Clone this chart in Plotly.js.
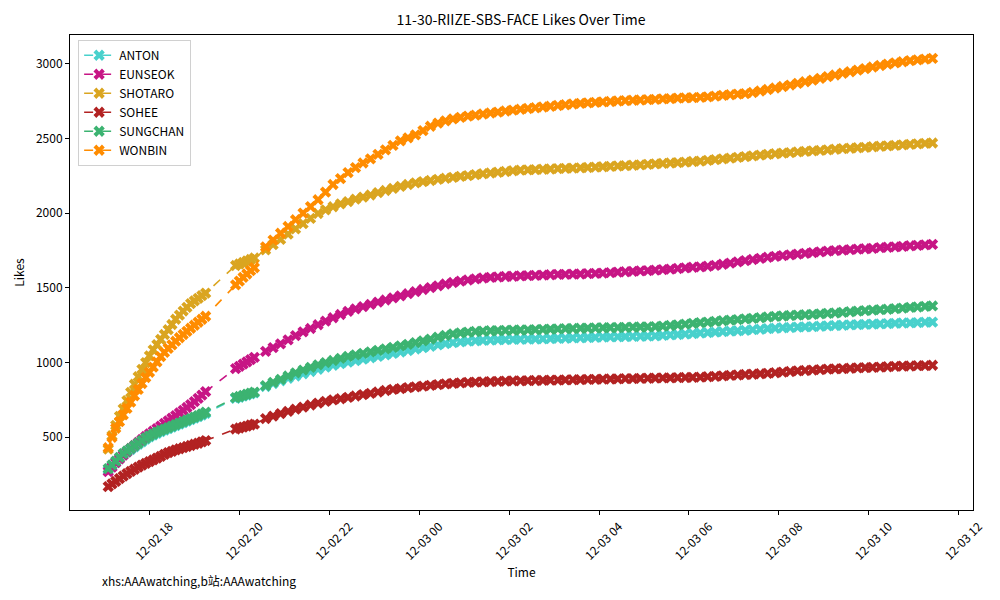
<!DOCTYPE html>
<html>
<head>
<meta charset="utf-8">
<script src="https://cdn.plot.ly/plotly-3.0.1.min.js"></script>
<style>html,body{margin:0;padding:0;background:#fff;}#chart{width:1000px;height:600px;}</style>
</head>
<body>
<div id="chart"></div>
<script>
const times = [
"2024-12-02 17:05","2024-12-02 17:10","2024-12-02 17:15","2024-12-02 17:20","2024-12-02 17:25","2024-12-02 17:30",
"2024-12-02 17:35","2024-12-02 17:40","2024-12-02 17:45","2024-12-02 17:50","2024-12-02 17:55","2024-12-02 18:00",
"2024-12-02 18:05","2024-12-02 18:10","2024-12-02 18:15","2024-12-02 18:20","2024-12-02 18:25","2024-12-02 18:30",
"2024-12-02 18:35","2024-12-02 18:40","2024-12-02 18:45","2024-12-02 18:50","2024-12-02 18:55","2024-12-02 19:00",
"2024-12-02 19:05","2024-12-02 19:10","2024-12-02 19:15",
"2024-12-02 19:55","2024-12-02 20:00","2024-12-02 20:05","2024-12-02 20:10","2024-12-02 20:15","2024-12-02 20:20",
"2024-12-02 20:35","2024-12-02 20:45","2024-12-02 20:55",
"2024-12-02 21:05","2024-12-02 21:15","2024-12-02 21:25","2024-12-02 21:35","2024-12-02 21:45","2024-12-02 21:55",
"2024-12-02 22:05","2024-12-02 22:15","2024-12-02 22:25","2024-12-02 22:35","2024-12-02 22:45","2024-12-02 22:55",
"2024-12-02 23:05","2024-12-02 23:15","2024-12-02 23:25","2024-12-02 23:35","2024-12-02 23:45","2024-12-02 23:55",
"2024-12-03 00:05","2024-12-03 00:15","2024-12-03 00:25","2024-12-03 00:35","2024-12-03 00:45","2024-12-03 00:55",
"2024-12-03 01:05","2024-12-03 01:15","2024-12-03 01:25","2024-12-03 01:35","2024-12-03 01:45","2024-12-03 01:55",
"2024-12-03 02:05","2024-12-03 02:15","2024-12-03 02:25","2024-12-03 02:35","2024-12-03 02:45","2024-12-03 02:55",
"2024-12-03 03:05","2024-12-03 03:15","2024-12-03 03:25","2024-12-03 03:35","2024-12-03 03:45","2024-12-03 03:55",
"2024-12-03 04:05","2024-12-03 04:15","2024-12-03 04:25","2024-12-03 04:35","2024-12-03 04:45","2024-12-03 04:55",
"2024-12-03 05:05","2024-12-03 05:15","2024-12-03 05:25","2024-12-03 05:35","2024-12-03 05:45","2024-12-03 05:55",
"2024-12-03 06:05","2024-12-03 06:15","2024-12-03 06:25","2024-12-03 06:35","2024-12-03 06:45","2024-12-03 06:55",
"2024-12-03 07:05","2024-12-03 07:15","2024-12-03 07:25","2024-12-03 07:35","2024-12-03 07:45","2024-12-03 07:55",
"2024-12-03 08:05","2024-12-03 08:15","2024-12-03 08:25","2024-12-03 08:35","2024-12-03 08:45","2024-12-03 08:55",
"2024-12-03 09:05","2024-12-03 09:15","2024-12-03 09:25","2024-12-03 09:35","2024-12-03 09:45","2024-12-03 09:55",
"2024-12-03 10:05","2024-12-03 10:15","2024-12-03 10:25","2024-12-03 10:35","2024-12-03 10:45","2024-12-03 10:55",
"2024-12-03 11:05","2024-12-03 11:15","2024-12-03 11:25"
];

const members = ["ANTON","EUNSEOK","SHOTARO","SOHEE","SUNGCHAN","WONBIN"];

const anton = [280,305,330,355,380,400,418,436,453,470,488,502,515,527,538,548,558,568,578,588,598,608,618,628,638,649,660,
760,768,775,783,790,797,
840,860,878,895,910,925,940,955,969,982,993,1003,1013,1023,1032,1041,1051,1061,1071,1081,1091,1100,1109,1118,1127,1134,1139,1143,1146,1149,1151,1153,1154,1155,1156,1157,1158,1159,1160,1162,1163,1165,1166,1168,1169,1171,1172,1173,1174,1175,1176,1177,1179,1182,1185,1188,1191,1194,1198,1201,1204,1207,1210,1213,1216,1220,1223,1227,1230,1233,1235,1237,1239,1241,1243,1246,1248,1250,1252,1254,1256,1257,1259,1261,1263,1265,1266,1268,1270,1271];

const eunseok = [270,300,330,355,380,403,425,445,465,485,505,523,540,558,575,593,610,628,645,663,680,699,718,739,760,782,805,
960,975,990,1005,1020,1035,
1075,1100,1125,1152,1180,1205,1228,1253,1278,1300,1322,1343,1360,1375,1390,1405,1419,1433,1447,1461,1475,1489,1502,1514,1526,1536,1545,1553,1560,1566,1570,1573,1576,1578,1580,1582,1584,1586,1588,1590,1591,1592,1593,1595,1597,1599,1602,1605,1608,1611,1614,1616,1619,1622,1626,1630,1634,1638,1641,1645,1651,1658,1666,1674,1682,1690,1698,1705,1711,1716,1721,1726,1731,1736,1741,1746,1750,1753,1756,1759,1762,1765,1769,1772,1775,1778,1782,1785,1788,1791];

const shotaro = [420,510,580,640,690,745,800,855,905,955,1000,1045,1085,1120,1155,1188,1220,1255,1290,1318,1345,1370,1395,1413,1430,1448,1465,
1650,1660,1670,1680,1690,1700,
1755,1790,1825,1860,1895,1930,1965,1998,2022,2043,2062,2078,2094,2108,2122,2138,2152,2166,2180,2192,2203,2211,2219,2227,2234,2240,2246,2252,2258,2264,2269,2274,2279,2284,2288,2290,2292,2294,2296,2298,2300,2302,2304,2306,2308,2311,2313,2316,2318,2321,2324,2327,2330,2333,2336,2339,2342,2346,2349,2354,2359,2364,2369,2374,2379,2384,2389,2394,2398,2402,2406,2410,2414,2417,2420,2424,2428,2432,2435,2438,2441,2445,2448,2451,2454,2457,2461,2464,2467,2470];

const sohee = [170,188,205,223,240,256,272,286,300,313,325,337,348,360,372,385,397,406,415,423,430,438,445,453,460,469,478,
555,562,568,575,582,588,
625,642,658,673,688,702,716,729,740,750,758,767,776,785,794,803,813,820,826,832,837,842,847,852,857,861,864,867,869,871,873,874,876,877,878,879,880,881,882,883,884,885,886,887,888,889,890,891,892,893,894,895,896,897,898,899,900,901,902,905,908,911,914,917,920,922,925,928,932,936,940,944,947,950,953,956,958,960,962,964,966,968,970,972,974,976,977,979,980,982];

const sungchan = [290,315,340,365,390,408,425,443,460,478,495,509,522,534,545,555,565,575,585,595,605,615,625,635,645,657,668,
765,773,780,788,795,802,
846,867,888,910,931,950,968,985,1000,1014,1028,1041,1052,1062,1072,1082,1092,1102,1112,1122,1133,1145,1157,1170,1182,1192,1199,1204,1208,1211,1213,1214,1216,1217,1218,1219,1221,1222,1224,1225,1227,1228,1230,1231,1232,1233,1234,1235,1236,1237,1238,1239,1241,1244,1248,1252,1257,1262,1267,1271,1276,1280,1284,1288,1292,1296,1300,1305,1309,1312,1315,1318,1320,1323,1326,1329,1332,1336,1340,1344,1348,1351,1354,1357,1361,1365,1369,1372,1376,1379];

const wonbin = [430,500,560,605,650,693,735,778,820,860,900,935,970,1005,1040,1068,1095,1119,1143,1166,1188,1209,1230,1250,1270,1290,1310,
1520,1545,1570,1593,1615,1635,
1775,1820,1866,1911,1956,2000,2044,2090,2141,2192,2232,2272,2305,2336,2364,2394,2424,2454,2484,2504,2524,2553,2582,2603,2618,2631,2641,2650,2657,2664,2671,2677,2684,2690,2696,2701,2706,2711,2716,2721,2726,2731,2735,2739,2742,2745,2748,2751,2754,2756,2758,2760,2762,2765,2767,2770,2772,2774,2776,2779,2784,2789,2793,2797,2801,2808,2818,2828,2838,2848,2858,2869,2880,2891,2903,2914,2925,2937,2947,2958,2968,2979,2989,2998,3006,3014,3021,3027,3032,3036];

const series = [anton, eunseok, shotaro, sohee, sungchan, wonbin];
const colors = ["#48D1CC","#C71585","#DAA520","#B22222","#3CB371","#FF8C00"];

const FONT = '"Noto Sans CJK SC", "DejaVu Sans", sans-serif';

const traces = members.map((name, i) => ({
  type: 'scatter',
  mode: 'lines+markers',
  name: name,
  x: times,
  y: series[i],
  line: {color: colors[i], dash: 'dash', width: 1.6},
  marker: {symbol: 'x', size: 10, color: colors[i], line: {width: 0}}
}));

const layout = {
  width: 1000, height: 600,
  margin: {l: 70, r: 27, t: 35, b: 90},
  paper_bgcolor: '#fff', plot_bgcolor: '#fff',
  font: {family: FONT, size: 12, color: '#000'},
  title: {text: '11-30-RIIZE-SBS-FACE Likes Over Time', x: 0.521, xanchor: 'center', y: 0.967, yanchor: 'middle', font: {family: FONT, size: 14, color: '#000'}},
  xaxis: {
    type: 'date',
    range: ['2024-12-02 16:14', '2024-12-03 12:19'],
    dtick: 7200000, tick0: '2024-12-02 00:00',
    tickformat: '%m-%d %H',
    tickangle: -45,
    ticklabelshift: 20,
    ticks: 'outside', ticklen: 4, tickcolor: '#000', tickwidth: 1,
    showgrid: false, zeroline: false,
    showline: true, linecolor: '#000', linewidth: 1, mirror: true,
    tickfont: {family: FONT, size: 12, color: '#000'},
    title: {text: 'Time', font: {family: FONT, size: 12, color: '#000'}, standoff: 6},
    automargin: false
  },
  yaxis: {
    range: [13, 3193],
    tickvals: [500, 1000, 1500, 2000, 2500, 3000],
    ticks: 'outside', ticklen: 4, tickcolor: '#000', tickwidth: 1,
    showgrid: false, zeroline: false,
    showline: true, linecolor: '#000', linewidth: 1, mirror: true,
    tickfont: {family: FONT, size: 12, color: '#000'},
    title: {text: 'Likes', font: {family: FONT, size: 12, color: '#000'}, standoff: 8},
    automargin: false
  },
  legend: {
    x: 0.009, y: 0.99, xanchor: 'left', yanchor: 'top',
    bgcolor: 'rgba(255,255,255,0.8)', bordercolor: '#d0d0d0', borderwidth: 1,
    font: {family: FONT, size: 12, color: '#000'},
    tracegroupgap: 0, itemwidth: 30
  },
  annotations: [{
    text: 'xhs:AAAwatching,b站:AAAwatching',
    xref: 'paper', yref: 'paper', x: 0.033, y: -0.149,
    xanchor: 'left', yanchor: 'middle', showarrow: false,
    font: {family: FONT, size: 12, color: '#000'}
  }],
  showlegend: true
};

Plotly.newPlot('chart', traces, layout, {displayModeBar: false, staticPlot: true});
</script>
</body>
</html>
